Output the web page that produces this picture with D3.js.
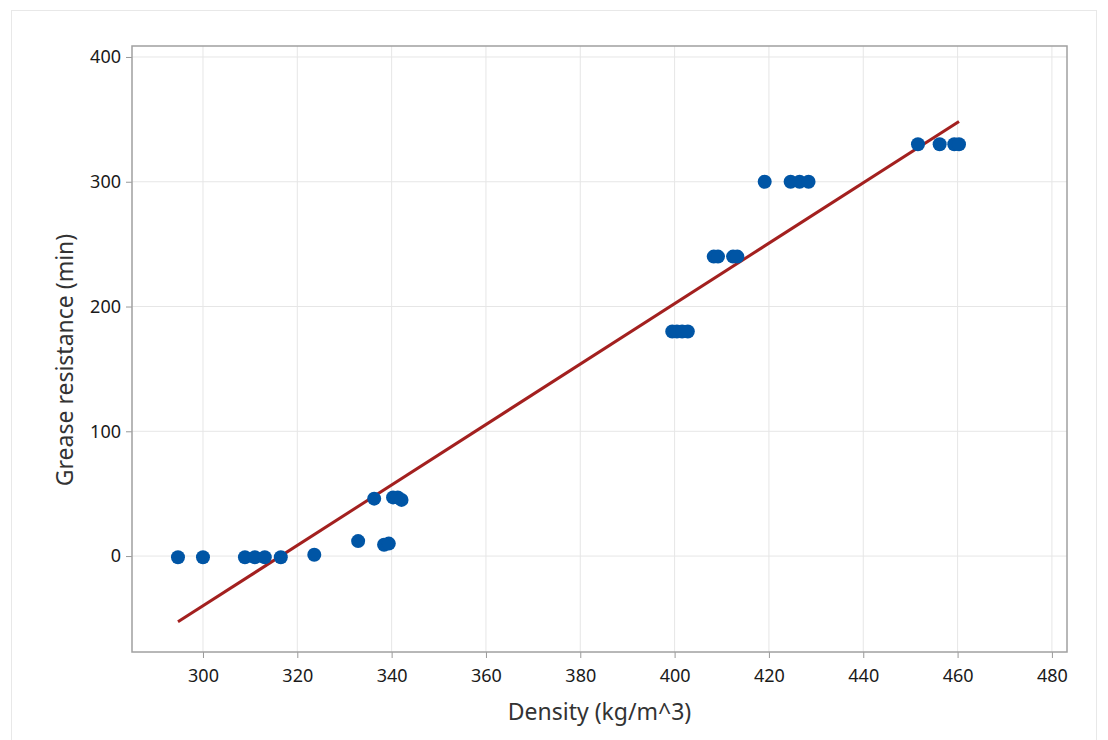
<!DOCTYPE html>
<html>
<head>
<meta charset="utf-8">
<script src="https://cdn.jsdelivr.net/npm/d3@7"></script>
<style>
  html, body { margin: 0; padding: 0; background: #fff; }
  svg { display: block; font-family: "Noto Sans", "Open Sans", sans-serif; }
</style>
</head>
<body>
<svg id="chart" width="1108" height="740"></svg>
<script>
// Density (kg/m^3) vs grease resistance (min)
const density = [
  294.7, 300.0, 308.9, 311.0, 313.1, 316.5, 323.6,
  332.9, 338.4, 339.4, 336.3, 340.3, 341.3, 342.1,
  399.5, 400.5, 401.6, 402.8,
  408.3, 409.2, 412.4, 413.3,
  419.1, 424.6, 426.5, 428.4,
  451.6, 456.2, 459.3, 460.3
];
const grease = [
  -1, -1, -1, -1, -1, -1, 1,
  12, 9, 10, 46, 47, 47, 45,
  180, 180, 180, 180,
  240, 240, 240, 240,
  300, 300, 300, 300,
  330, 330, 330, 330
];
// fitted line as drawn: resistance = intercept + slope * density
const fitIntercept = -766.5;
const fitSlope = 2.422;
const fitRange = [294.7, 460.3];

const xTicks = [300, 320, 340, 360, 380, 400, 420, 440, 460, 480];
const yTicks = [0, 100, 200, 300, 400];

const svg = d3.select("#chart");
const frame = { left: 132, top: 46, right: 1067, bottom: 652 };

const x = d3.scaleLinear().domain([284.95, 483.2]).range([frame.left, frame.right]);
const y = d3.scaleLinear().domain([-76.9, 408.8]).range([frame.bottom, frame.top]);

// outer panel border
svg.append("rect")
  .attr("x", 11.5).attr("y", 10.5)
  .attr("width", 1085).attr("height", 760)
  .attr("fill", "none").attr("stroke", "#e8e8e8");

// gridlines
svg.append("g").selectAll("line").data(xTicks).join("line")
  .attr("x1", d => x(d)).attr("x2", d => x(d))
  .attr("y1", frame.top).attr("y2", frame.bottom)
  .attr("stroke", "#e6e6e6").attr("stroke-width", 1);
svg.append("g").selectAll("line").data(yTicks).join("line")
  .attr("x1", frame.left).attr("x2", frame.right)
  .attr("y1", d => y(d)).attr("y2", d => y(d))
  .attr("stroke", "#e6e6e6").attr("stroke-width", 1);

// axes
const xAxis = svg.append("g")
  .attr("transform", `translate(0,${frame.bottom})`)
  .call(d3.axisBottom(x).tickValues(xTicks).tickSize(6).tickPadding(11).tickFormat(d3.format("d")));
const yAxis = svg.append("g")
  .attr("transform", `translate(${frame.left},0)`)
  .call(d3.axisLeft(y).tickValues(yTicks).tickSize(6).tickPadding(5).tickFormat(d3.format("d")));
[xAxis, yAxis].forEach(g => {
  g.select(".domain").remove();
  g.selectAll(".tick line").attr("stroke", "#999");
  g.selectAll(".tick text").attr("fill", "#1a1a1a").attr("font-size", 18)
    .attr("font-family", "'Noto Sans', 'Open Sans', sans-serif");
});

// frame
svg.append("rect")
  .attr("x", frame.left).attr("y", frame.top)
  .attr("width", frame.right - frame.left).attr("height", frame.bottom - frame.top)
  .attr("fill", "none").attr("stroke", "#a0a0a0").attr("stroke-width", 1.5);

// fitted line
svg.append("line")
  .attr("x1", x(fitRange[0])).attr("y1", y(fitIntercept + fitSlope * fitRange[0]))
  .attr("x2", x(fitRange[1])).attr("y2", y(fitIntercept + fitSlope * fitRange[1]))
  .attr("stroke", "#a3201f").attr("stroke-width", 3);

// points
svg.append("g").selectAll("circle").data(density).join("circle")
  .attr("cx", d => x(d))
  .attr("cy", (d, i) => y(grease[i]))
  .attr("r", 7)
  .attr("fill", "#0055a5");

// axis titles
svg.append("text")
  .attr("x", (frame.left + frame.right) / 2).attr("y", 720)
  .attr("text-anchor", "middle").attr("font-size", 23).attr("fill", "#333")
  .text("Density (kg/m^3)");
svg.append("text")
  .attr("transform", `translate(73,${(frame.top + frame.bottom) / 2 + 11}) rotate(-90)`)
  .attr("text-anchor", "middle").attr("font-size", 23).attr("fill", "#333")
  .text("Grease resistance (min)");
</script>
</body>
</html>
